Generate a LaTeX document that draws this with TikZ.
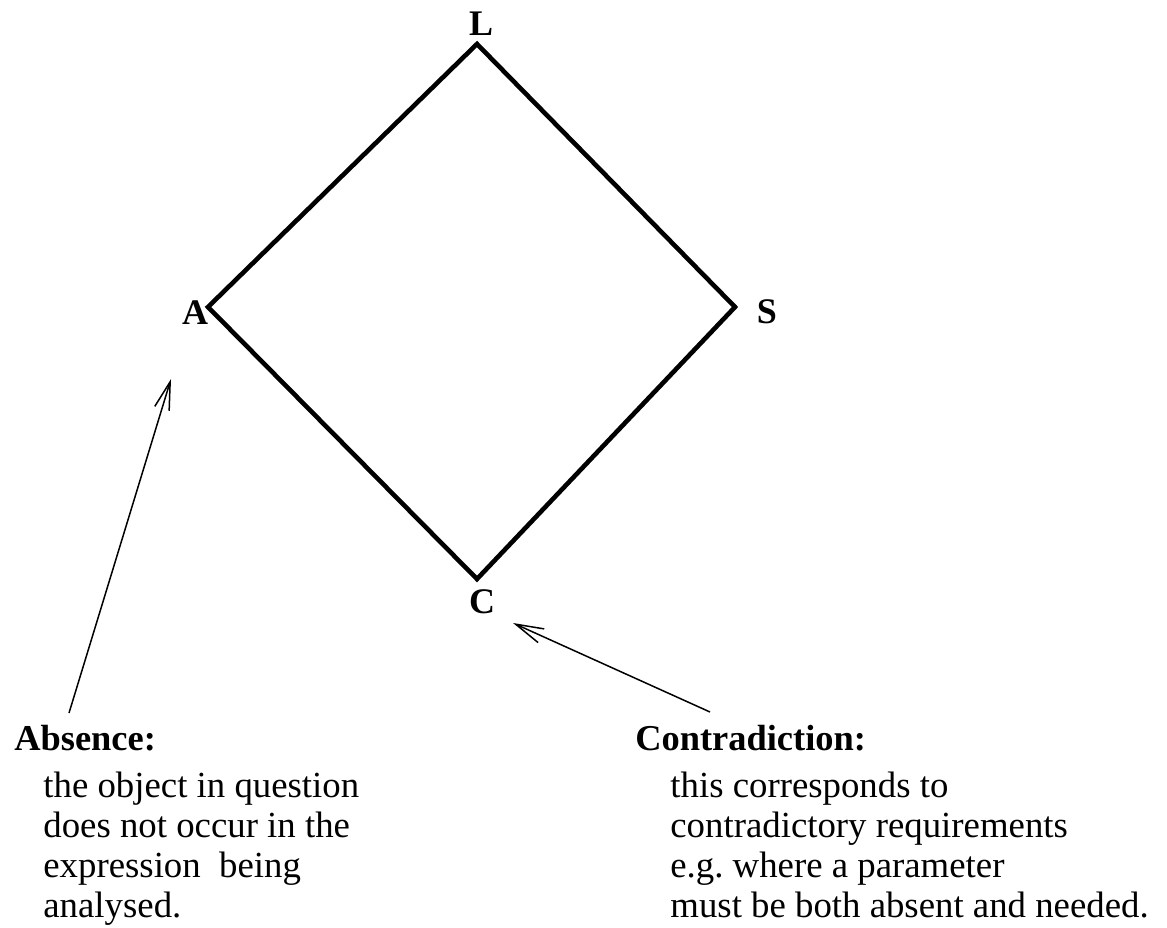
\documentclass[tikz,border=0pt]{standalone}
\usepackage{fontspec}
\setmainfont{Liberation Serif}
\frenchspacing
\usetikzlibrary{arrows.meta}
\tikzset{
  lbl/.style={font=\fontsize{18}{20}\selectfont\bfseries, inner sep=0pt, anchor=base},
  head/.style={font=\fontsize{18.2}{20}\selectfont\bfseries, inner sep=0pt, anchor=base west},
  body/.style={font=\fontsize{18.4}{20}\selectfont, inner sep=0pt, anchor=base west, align=left},
  pointer/.style={line width=0.75pt, -{Straight Barb[length=14pt,width=7.5pt,line width=0.75pt]}}
}
\begin{document}
\begin{tikzpicture}[x=0.5pt, y=-0.5pt]
  \useasboundingbox (0,0) rectangle (1167,927);

  % Reticolo
  \coordinate (top) at (477,44);
  \coordinate (left) at (208,307);
  \coordinate (right) at (735,307);
  \coordinate (bottom) at (477,579);
  \draw[line width=2.3pt, line join=miter] (top) -- (right) -- (bottom) -- (left) -- cycle;

  \node[lbl] (L) at (481,35) {L};
  \node[lbl] (A) at (195,324) {A};
  \node[lbl] (S) at (767,323) {S};
  \node[lbl] (C) at (482,613) {C};

  % Testi
  \node[head] (abshead) at (14,750) {Absence:};
  \node[body] (absbody) at (43,917) {the object in question\\does not occur in the\\expression\ \ being\\analysed.};
  \node[head] (conhead) at (635,750) {Contradiction:};
  \node[body] (conbody) at (670,917) {this corresponds to\\contradictory requirements\\e.g. where a parameter\\must be both absent and needed.};

  % Frecce
  \coordinate (absfrom) at (69,713);
  \coordinate (absto) at (171,379);
  \coordinate (confrom) at (710,712);
  \coordinate (conto) at (513,623);
  \draw[pointer] (absfrom) -- (absto);
  \draw[pointer] (confrom) -- (conto);
\end{tikzpicture}
\end{document}
